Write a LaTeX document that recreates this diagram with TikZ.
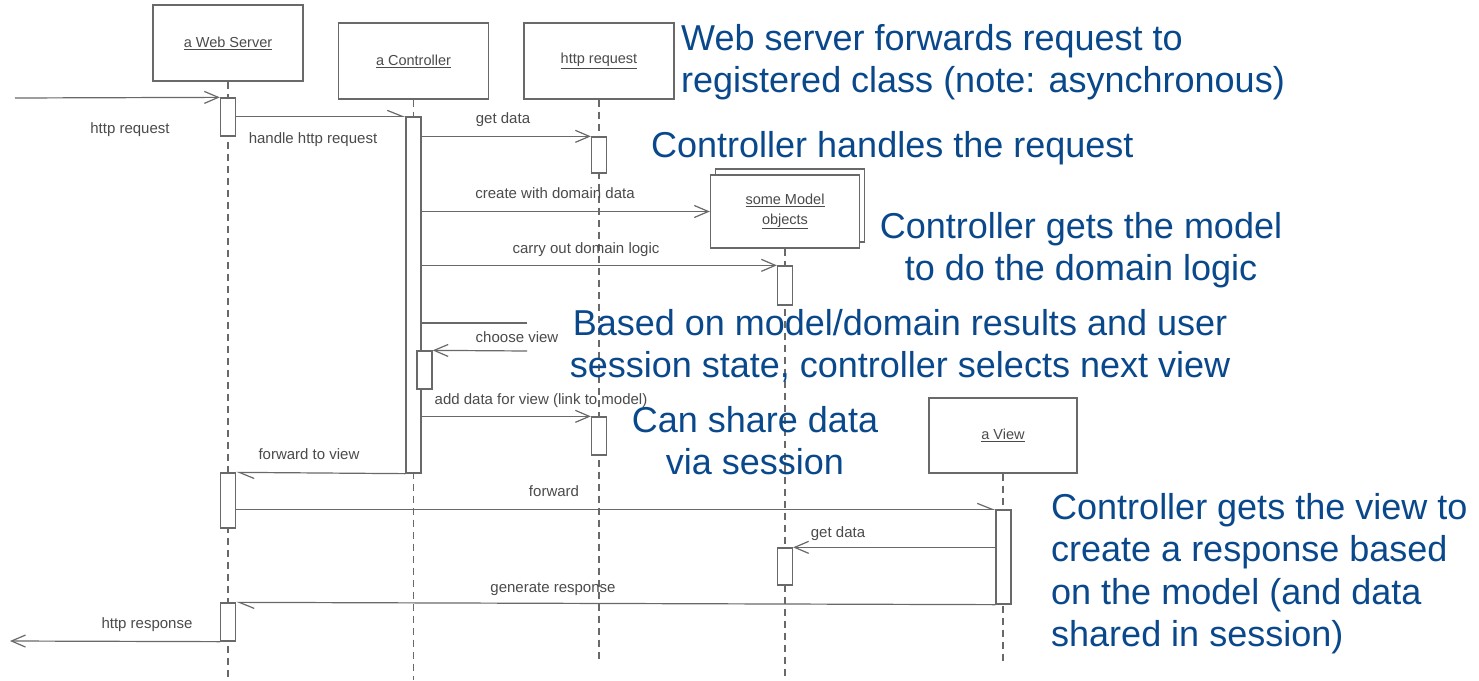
\documentclass[tikz,border=0pt]{standalone}
\usepackage{fontspec}
\setmainfont{Liberation Sans}
\usetikzlibrary{arrows.meta}
\definecolor{ink}{RGB}{105,105,105}
\definecolor{labelgray}{RGB}{75,75,75}
\definecolor{noteblue}{RGB}{10,72,140}
\tikzset{
  lifebox/.style={draw=ink, line width=1.3pt, fill=white, minimum width=150pt,
    minimum height=75pt, inner sep=0pt, text=labelgray, align=center,
    font=\fontsize{14.5}{20}\selectfont},
  act/.style={draw=ink, line width=1.3pt, fill=white, minimum width=15pt, inner sep=0pt},
  lifeline/.style={draw=ink, line width=1.3pt, dash pattern=on 7pt off 5pt},
  msg/.style={draw=ink, line width=1.2pt, -{Straight Barb[length=14pt,width=12pt]}},
  asyncmsg/.style={draw=ink, line width=1.2pt, -{Straight Barb[left,length=15pt,width=12pt]}},
  lbl/.style={anchor=base, inner sep=0pt, text=labelgray, font=\fontsize{15}{18}\selectfont},
  note/.style={inner sep=0pt, text=noteblue, font=\fontsize{36}{42.5}\selectfont},
}
\begin{document}
\begin{tikzpicture}[x=1pt, y=-1pt]
\useasboundingbox[fill=white] (0,0) rectangle (1479,680);

% participants
\node[lifebox, minimum height=76pt] (ws) at (228,43) {\underline{a Web Server}};
\node[lifebox, minimum height=76pt] (ctl) at (413.5,61) {\underline{a Controller}};
\node[lifebox, minimum height=76pt] (hr) at (599,61) {\underline{http request}};
\node[lifebox, minimum width=149pt, minimum height=73pt] (modelback) at (790,205.5) {};
\node[lifebox, minimum width=149pt, minimum height=73pt] (model) at (785,211.5) {\underline{some Model}\\\underline{objects}};
\node[lifebox, minimum width=148pt] (view) at (1003,435.5) {\underline{a View}};

% lifeline ends
\coordinate (wsend) at (228,680);
\coordinate (ctlend) at (413.5,680);
\coordinate (hrend) at (599,662);
\coordinate (modelend) at (785,680);
\coordinate (viewend) at (1003,662);

\draw[lifeline] (ws.south) -- (wsend);
\draw[lifeline] (ctl.south) -- (ctlend);
\draw[lifeline] (hr.south) -- (hrend);
\draw[lifeline] (model.south) -- (modelend);
\draw[lifeline] (view.south) -- (viewend);

% activation bars
\node[act, minimum height=38pt] (ws1) at (228,117) {};
\node[act, minimum height=55pt] (ws2) at (228,500.5) {};
\node[act, minimum height=38pt] (ws3) at (228,622) {};
\node[act, minimum height=356pt] (c1) at (413.5,295) {};
\node[act, minimum height=38pt] (c2) at (424.5,370) {};
\node[act, minimum height=36pt] (h1) at (599,155) {};
\node[act, minimum height=38pt] (h2) at (599,436) {};
\node[act, minimum height=39pt] (m1) at (785,285.5) {};
\node[act, minimum height=37pt] (m2) at (785,566.5) {};
\node[act, minimum height=94pt] (v1) at (1003.5,557) {};

% free ends of messages
\coordinate (caller) at (15,98);
\coordinate (client) at (10,641);
\coordinate (cvturn) at (527,323);
\coordinate (cvback) at (527,351);

% messages
\draw[msg] (caller) -- (ws1.north west);
\draw[asyncmsg] (ws1.east |- c1.north) -- (c1.north west);
\draw[msg] (c1.east |- h1.north) -- (h1.north west);
\draw[msg] (c1.east |- model.west) -- (model.west);
\draw[msg] (c1.east |- m1.north) -- (m1.north west);
\draw[draw=ink, line width=1.2pt] (c1.east |- cvturn) -- (cvturn);
\draw[msg] (cvback) -- (c2.north east);
\draw[msg] (c1.east |- h2.north) -- (h2.north west);
\draw[asyncmsg] (c1.south west) -- (ws2.north east);
\draw[asyncmsg] (ws2.east |- v1.north) -- (v1.north west);
\draw[msg] (v1.west |- m2.north) -- (m2.north east);
\draw[asyncmsg] (v1.south west) -- (ws3.north east);
\draw[msg] (ws3.south west) -- (client);

% message labels
\node[lbl] (l1) at (130,133) {http request};
\node[lbl] (l2) at (313,143) {handle http request};
\node[lbl] (l3) at (503,123) {get data};
\node[lbl] (l4) at (555,198) {create with domain data};
\node[lbl] (l5) at (586,253) {carry out domain logic};
\node[lbl] (l6) at (517,342) {choose view};
\node[lbl] (l7) at (541,404) {add data for view (link to model)};
\node[lbl] (l8) at (309,459) {forward to view};
\node[lbl] (l9) at (554,496) {forward};
\node[lbl] (l10) at (838,537) {get data};
\node[lbl] (l11) at (553,592) {generate response};
\node[lbl] (l12) at (147,628) {http response};

% annotations
\node[note, anchor=north west, align=left] (n1) at (681,24)
  {Web server forwards request to\\registered class (note: asynchronous)};
\node[note, anchor=north west] (n2) at (651,131) {Controller handles the request};
\node[note, anchor=north, align=center] (n3) at (1081,212)
  {Controller gets the model\\to do the domain logic};
\node[note, anchor=north, align=center] (n4) at (900,309)
  {Based on model/domain results and user\\session state, controller selects next view};
\node[note, anchor=north, align=center] (n5) at (755,406) {Can share data\\via session};
\node[note, anchor=north west, align=left] (n6) at (1051,493)
  {Controller gets the view to\\create a response based\\on the model (and data\\shared in session)};
\end{tikzpicture}
\end{document}
